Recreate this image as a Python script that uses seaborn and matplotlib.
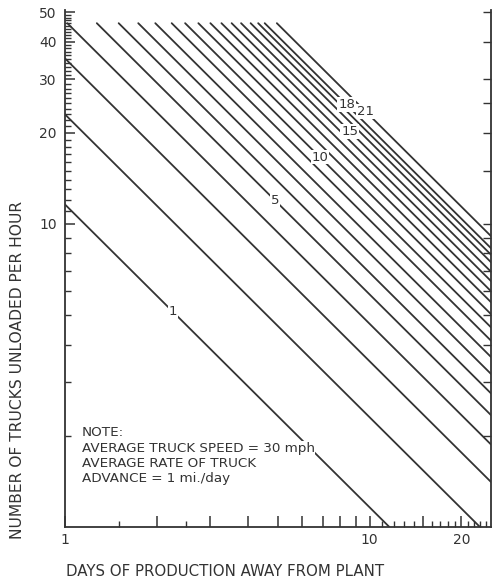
import matplotlib
matplotlib.use("Agg")
import matplotlib.pyplot as plt
from matplotlib.ticker import FixedLocator, FixedFormatter, NullFormatter
import seaborn as sns
import pandas as pd

# values
line_numbers = [1, 2, 3, 4, 5, 6, 7, 8, 9, 10, 11, 12, 13, 14, 15, 16, 17, 18, 21]
rate_at_one_day = [11.6, 23, 35.2, 46.8, 58.5, 69, 80, 91, 103, 114, 126,
                   138, 150, 162, 174, 187, 198, 208, 228]
top_cap = 46
days_range = (1, 25)
trucks_range = (1, 51)

label_lines = [1, 5, 10, 15, 18, 21]
label_days = [2.26, 4.88, 6.86, 8.6, 8.4, 9.7]

x_major = [1, 2, 3, 4, 5, 6, 7, 8, 9, 10, 15, 20]
x_labels = ["1", "", "", "", "", "", "", "", "", "10", "", "20"]
x_minor = [1.5, 2.5, 11, 12, 13, 14, 16, 17, 18, 19, 21, 22, 23, 24]
y_major = [10, 20, 30, 40, 50]
y_minor = [2, 3, 4, 5, 6, 7, 8, 9] + list(range(11, 20)) + list(range(21, 50))
y_right = [2, 3, 4, 5, 6, 7, 8, 9, 10, 15, 20, 25, 30, 40, 50]

note_lines = ["NOTE:", "AVERAGE TRUCK SPEED = 30 mph",
              "AVERAGE RATE OF TRUCK", "ADVANCE = 1 mi./day"]

# each line is y = c / x, clipped to the drawn region
rows = []
for n, c in zip(line_numbers, rate_at_one_day):
    x0 = max(days_range[0], c / top_cap)
    x1 = min(days_range[1], c / trucks_range[0])
    rows.append({"line": n, "days": x0, "trucks": c / x0})
    rows.append({"line": n, "days": x1, "trucks": c / x1})
df = pd.DataFrame(rows)
rate = dict(zip(line_numbers, rate_at_one_day))

sns.set_style("ticks")
plt.rcParams['font.family'] = ['DejaVu Sans']
ink = "#333333"

fig = plt.figure(figsize=(4.97, 5.81), dpi=100)
ax = fig.add_axes([65 / 497, 1 - 527 / 581, 426 / 497, 517.4 / 581])

sns.lineplot(data=df, x="days", y="trucks", units="line", estimator=None,
             color=ink, lw=1.3, ax=ax, legend=False)
ax.set_xscale("log")
ax.set_yscale("log")
ax.set_xlim(*days_range)
ax.set_ylim(*trucks_range)
ax.set_xlabel("")
ax.set_ylabel("")

ax.xaxis.set_major_locator(FixedLocator(x_major))
ax.xaxis.set_major_formatter(FixedFormatter(x_labels))
ax.xaxis.set_minor_locator(FixedLocator(x_minor))
ax.xaxis.set_minor_formatter(NullFormatter())
ax.yaxis.set_major_locator(FixedLocator(y_major))
ax.yaxis.set_major_formatter(FixedFormatter([str(v) for v in y_major]))
ax.yaxis.set_minor_locator(FixedLocator(y_minor))
ax.yaxis.set_minor_formatter(NullFormatter())

ax.tick_params(axis="x", which="major", direction="in", length=8, width=1.1,
               color=ink, labelcolor=ink, labelsize=10, pad=4)
ax.tick_params(axis="x", which="minor", direction="in", length=4, width=1.0, color=ink)
ax.tick_params(axis="y", which="major", direction="in", length=7, width=1.1,
               color=ink, labelcolor=ink, labelsize=10, pad=6)
ax.tick_params(axis="y", which="minor", direction="in", length=4.5, width=1.0, color=ink)

for side in ["top", "right"]:
    ax.spines[side].set_visible(False)
for side in ["left", "bottom"]:
    ax.spines[side].set_color(ink)
    ax.spines[side].set_linewidth(1.3)

ax2 = ax.twinx()
ax2.set_yscale("log")
ax2.set_ylim(*trucks_range)
ax2.yaxis.set_major_locator(FixedLocator(y_right))
ax2.yaxis.set_major_formatter(NullFormatter())
ax2.yaxis.set_minor_locator(FixedLocator([]))
ax2.tick_params(axis="y", which="major", direction="in", length=6, width=1.0, color=ink)
for side in ["top", "left", "bottom"]:
    ax2.spines[side].set_visible(False)
ax2.spines["right"].set_color(ink)
ax2.spines["right"].set_linewidth(1.3)

for n, d in zip(label_lines, label_days):
    ax.text(d, rate[n] / d, str(n), ha="center", va="center", fontsize=9.5,
            color=ink, zorder=5,
            bbox=dict(facecolor="white", edgecolor="none", pad=0.6))

for i, line in enumerate(note_lines):
    ax.text(0.040, 0.182 - i * 0.0297, line, transform=ax.transAxes,
            ha="left", va="center", fontsize=9.7, color=ink,
            bbox=dict(facecolor="white", edgecolor="none", pad=0.3))

fig.text(225 / 497, 1 - 572 / 581, "DAYS OF PRODUCTION AWAY FROM PLANT",
         ha="center", va="center", fontsize=10.8, color=ink)
fig.text(18 / 497, 1 - 370 / 581, "NUMBER OF TRUCKS UNLOADED PER HOUR",
         ha="center", va="center", rotation=90, fontsize=11.2, color=ink)

fig.savefig("out.png", dpi=100, facecolor="white")
